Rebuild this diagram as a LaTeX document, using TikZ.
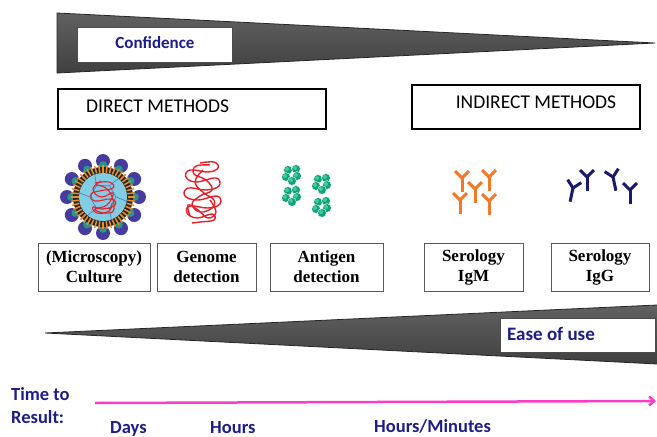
\documentclass[tikz,border=0pt]{standalone}
\usepackage{fontspec}
\setmainfont{Liberation Serif}
\newfontfamily\carlito{Carlito}
\usetikzlibrary{arrows.meta}
\definecolor{navytext}{RGB}{28,28,138}
\definecolor{pinkarrow}{RGB}{250,60,200}
\definecolor{igmorange}{RGB}{244,120,40}
\definecolor{iggnavy}{RGB}{25,25,110}
\definecolor{bumpblue}{RGB}{70,60,160}
\definecolor{bumpteal}{RGB}{40,150,130}
\definecolor{capsid}{RGB}{130,205,228}
\definecolor{capsidline}{RGB}{60,130,185}
\definecolor{genred}{RGB}{235,30,40}
\definecolor{antigenteal}{RGB}{20,160,120}
\definecolor{antigenlight}{RGB}{60,205,160}
\definecolor{ringorange}{RGB}{240,140,40}

\tikzset{
  wedgeedge/.style={draw=black!85, line width=0.8pt},
  wedgeshade/.style={top color=black!62, middle color=black!30, bottom color=black!75},
  methodbox/.style={draw=black, line width=1.8pt, fill=white, inner sep=0pt},
  methodtext/.style={font=\carlito\fontsize{19.5}{23}\selectfont, inner sep=0pt},
  labelbox/.style={draw=gray!70!black, line width=1pt, fill=white, align=center,
    inner sep=0pt, font=\bfseries\fontsize{17}{20}\selectfont},
  tagbox/.style={draw=gray!60!black, line width=0.8pt, fill=white, inner sep=0pt},
  bluetext/.style={text=navytext, font=\carlito\bfseries\fontsize{18.5}{23}\selectfont, inner sep=0pt},
  tagtext/.style={text=navytext, font=\carlito\bfseries, inner sep=0pt},
  abline/.style={line width=3pt},
  pics/antibody/.style={code={
    \draw[abline] (0,0)--(0,14);
    \draw[abline] (0,0)--(-7,-7);
    \draw[abline] (0,0)--(7,-7);}},
  pics/antigen/.style={code={
    \foreach \dx/\dy in {-4/-5,4/-6,-6/2,5/1,0/6}{
      \fill[antigenteal, draw=white, line width=0.4pt] (\dx,\dy) circle (4.4);
      \fill[antigenlight] (\dx-1,\dy-1) circle (2);}}},
  tangle/.style={draw=genred, line width=1.4pt},
}

\begin{document}
\begin{tikzpicture}[x=1pt,y=-1pt]
\useasboundingbox (0,0) rectangle (657,437);

% ---------- top wedge (confidence)
\shade[wedgeshade] (57,13) -- (655,43) -- (57,73) -- cycle;
\draw[wedgeedge] (57,13) -- (655,43) -- (57,73) -- cycle;
\node[tagbox, minimum width=155pt, minimum height=35pt] (confbox) at (154.5,45) {};
\node[tagtext, font=\carlito\bfseries\fontsize{17}{20}\selectfont] (conftext) at (155,43) {Confidence};

% ---------- method boxes
\node[methodbox, minimum width=268pt, minimum height=40pt] (directbox) at (192,109) {};
\node[methodtext, anchor=west] (directtext) at (86,106) {DIRECT METHODS};
\node[methodbox, minimum width=228pt, minimum height=44pt] (indirectbox) at (526,107) {};
\node[methodtext] (indirecttext) at (536,102) {INDIRECT METHODS};

% ---------- virus icon
\begin{scope}[shift={(103,197)}]
  \foreach \a in {0,30,...,330}{
    \fill[bumpblue] (\a:36) circle (7);
    \fill[bumpteal] (\a:32) circle (3.8);
  }
  \fill[black!85] (0,0) circle (30);
  \foreach \a in {0,7.5,...,352.5}{
    \draw[ringorange, line width=1.5pt] (\a:24.5) -- (\a:32);
  }
  \fill[capsid] (0,0) circle (24);
  \draw[capsidline, line width=0.6pt]
    (0:13) -- (60:13) -- (120:13) -- (180:13) -- (240:13) -- (300:13) -- cycle;
  \foreach \a in {0,60,...,300}{\draw[capsidline, line width=0.6pt] (\a:13) -- (\a+10:24);}
  \draw[tangle, line width=1.1pt] plot[smooth, tension=0.8] coordinates {
    (-8,-14) (6,-15) (10,-9) (-4,-6) (-12,-3) (-8,4) (8,2) (12,8) (0,12) (-10,10) (-6,16) (6,14) (9,6)};
  \draw[tangle, line width=1.1pt] plot[smooth, tension=0.8] coordinates {
    (-2,-16) (-10,-8) (-2,0) (10,-4) (4,8) (-8,12) (2,16) (11,12) (6,-6) (-6,-12)};
\end{scope}

% ---------- genome icon
\draw[tangle] plot[smooth, tension=0.7] coordinates {
  (200,163) (214,162) (218,168) (208,172) (190,170) (186,177) (196,182) (216,178)
  (219,186) (206,190) (188,188) (185,196) (198,200) (217,196) (220,204) (208,208)
  (190,206) (187,213) (197,218) (212,214) (214,220) (200,222) (192,223)};
\draw[tangle] plot[smooth, tension=0.7] coordinates {
  (210,165) (196,166) (194,174) (206,180) (212,190) (200,196) (192,204) (200,212)
  (212,208) (214,200) (204,193) (195,182) (203,170)};
\draw[tangle] plot[smooth, tension=0.7] coordinates {
  (190,216) (188,205) (198,210) (208,218) (216,212) (210,200)};

% ---------- antigen icon
\pic at (292,175) {antigen};
\pic at (292,196) {antigen};
\pic at (322,184) {antigen};
\pic at (322,207) {antigen};

% ---------- IgM antibodies
\begin{scope}[color=igmorange]
  \pic at (462,178) {antibody};
  \pic at (489,177) {antibody};
  \pic at (475,189) {antibody};
  \pic at (460,200) {antibody};
  \pic at (489,201) {antibody};
\end{scope}

% ---------- IgG antibodies
\begin{scope}[color=iggnavy]
  \pic[rotate=-12] at (573,188) {antibody};
  \pic at (587,177) {antibody};
  \pic[rotate=12] at (613,177) {antibody};
  \pic at (630,190) {antibody};
\end{scope}

% ---------- label boxes
\node[labelbox, minimum width=112pt, minimum height=48pt] (culture) at (94,267) {(Microscopy)\\Culture};
\node[labelbox, minimum width=99pt, minimum height=48pt] (genome) at (206.5,267) {Genome\\detection};
\node[labelbox, minimum width=113pt, minimum height=48pt] (antigen) at (326.5,267) {Antigen\\detection};
\node[labelbox, minimum width=99pt, minimum height=48pt] (igm) at (473.5,267) {Serology\\IgM};
\node[labelbox, minimum width=98pt, minimum height=48pt] (igg) at (600,267) {Serology\\IgG};

% ---------- bottom wedge (ease of use)
\shade[wedgeshade] (45,333) -- (657,305) -- (657,364) -- cycle;
\draw[wedgeedge] (657,305) -- (45,333) -- (657,364);
\node[tagbox, minimum width=155pt, minimum height=34pt] (easebox) at (577.5,335) {};
\node[tagtext, anchor=west, font=\carlito\bfseries\fontsize{19}{22}\selectfont] (easetext) at (507,334) {Ease of use};

% ---------- time to result
\node[bluetext, align=left, anchor=north west] (timelabel) at (11,387) {Time to\\Result:};
\coordinate (arrowstart) at (95,403);
\coordinate (arrowend) at (656,401);
\draw[pinkarrow, line width=2.5pt, -{Straight Barb[length=5pt, width=9pt]}] (arrowstart) -- (arrowend);
\node[bluetext, anchor=base west] (days) at (110,433) {Days};
\node[bluetext, anchor=base west] (hours) at (210,433) {Hours};
\node[bluetext, anchor=base west] (hoursmin) at (374,432) {Hours/Minutes};
\end{tikzpicture}
\end{document}
